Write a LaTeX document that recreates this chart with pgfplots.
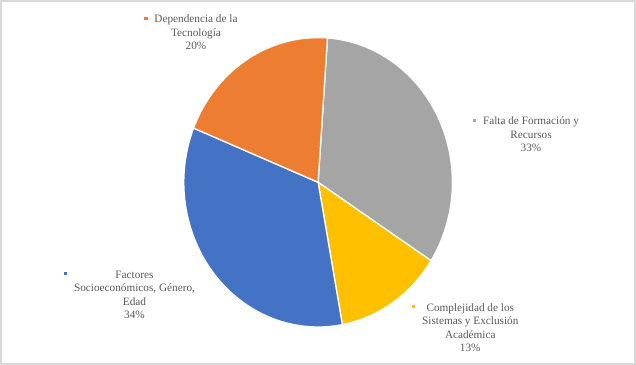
\documentclass[border=0pt]{standalone}
\usepackage{pgfplots}
\pgfplotsset{compat=1.18}
\usepackage{fontspec}
\setmainfont{Liberation Serif}
\definecolor{cblue}{HTML}{4472C4}
\definecolor{corange}{HTML}{ED7D31}
\definecolor{cgray}{HTML}{A5A5A5}
\definecolor{cyellow}{HTML}{FFC000}
\definecolor{ctext}{HTML}{595959}
\definecolor{cborder}{HTML}{D9D9D9}
\begin{document}
\begin{tikzpicture}
% data (percent), clockwise from the top
\def\vGray{33}   % Falta de Formacion y Recursos
\def\vYellow{13} % Complejidad de los Sistemas y Exclusion Academica
\def\vBlue{34}   % Factores Socioeconomicos, Genero, Edad
\def\vOrange{20} % Dependencia de la Tecnologia
\def\cx{318.1}\def\cy{182.7}\def\rx{134.3}\def\ry{144.7}
\pgfmathsetmacro\aA{86}
\pgfmathsetmacro\aB{\aA-3.6*\vGray}
\pgfmathsetmacro\aC{\aB-3.6*\vYellow}
\pgfmathsetmacro\aD{\aC-3.6*\vBlue}
\pgfmathsetmacro\aE{\aD-3.6*\vOrange}
\useasboundingbox (0,0) rectangle (636bp,365bp);
\begin{axis}[at={(0,0)}, anchor=south west, width=636bp, height=365bp,
  scale only axis, xmin=0, xmax=636, ymin=0, ymax=365, hide axis, clip=false]
\addplot[fill=cgray, draw=white, line width=1.3bp, domain=\aB:\aA, samples=90, variable=\t]
  ({\cx+\rx*cos(\t)},{\cy+\ry*sin(\t)}) -- (axis cs:\cx,\cy) -- cycle;
\addplot[fill=cyellow, draw=white, line width=1.3bp, domain=\aC:\aB, samples=40, variable=\t]
  ({\cx+\rx*cos(\t)},{\cy+\ry*sin(\t)}) -- (axis cs:\cx,\cy) -- cycle;
\addplot[fill=cblue, draw=white, line width=1.3bp, domain=\aD:\aC, samples=90, variable=\t]
  ({\cx+\rx*cos(\t)},{\cy+\ry*sin(\t)}) -- (axis cs:\cx,\cy) -- cycle;
\addplot[fill=corange, draw=white, line width=1.3bp, domain=\aE:\aD, samples=60, variable=\t]
  ({\cx+\rx*cos(\t)},{\cy+\ry*sin(\t)}) -- (axis cs:\cx,\cy) -- cycle;
\begin{scope}[every node/.style={align=center, inner sep=0pt, anchor=base, text=ctext,
   font={\fontsize{11.25bp}{13.5bp}\selectfont}}]
\node (lO) at (axis cs:196,315) {Dependencia de la\\Tecnología\\20\%};
\node (lG) at (axis cs:531,213.1) {Falta de Formación y\\Recursos\\33\%};
\node (lB) at (axis cs:134.5,46) {Factores\\Socioeconómicos, Género,\\Edad\\34\%};
\node (lY) at (axis cs:470.3,13.1) {Complejidad de los\\Sistemas y Exclusión\\Académica\\13\%};
\end{scope}
\end{axis}
\foreach \n/\c/\k in {lO/corange/27, lG/cgray/27, lB/cblue/40.5, lY/cyellow/40.5}{
  \fill[\c] ([xshift=-9.8bp,yshift=\k bp+3.05bp]\n.base west) rectangle ([xshift=-6.5bp,yshift=\k bp+6.35bp]\n.base west);
}
\draw[cborder, line width=2.4bp] (1.2bp,1.2bp) rectangle (634.8bp,363.8bp);
\end{tikzpicture}
\end{document}
